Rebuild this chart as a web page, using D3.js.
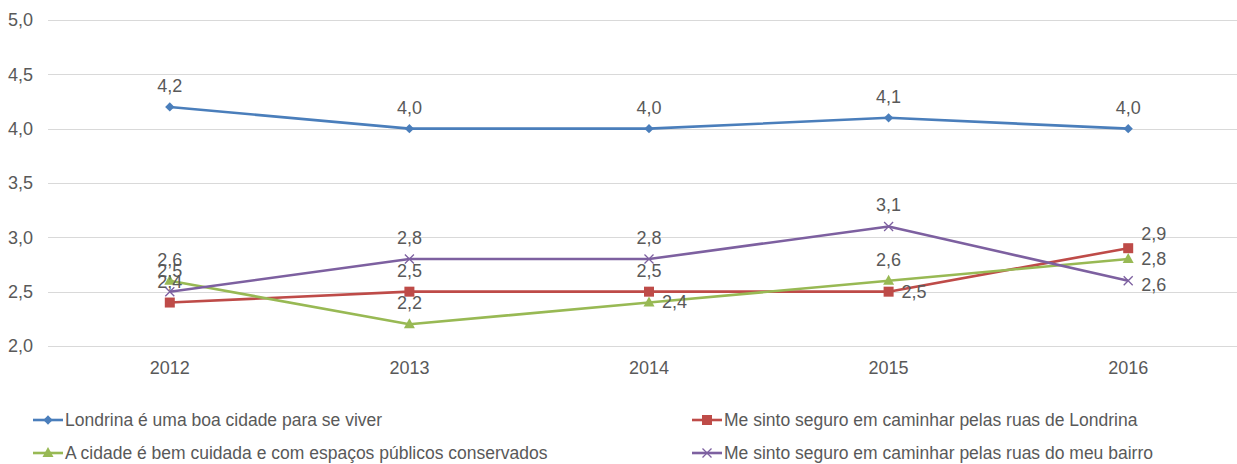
<!DOCTYPE html>
<html><head><meta charset="utf-8">
<script src="https://cdn.jsdelivr.net/npm/d3@7"></script>
<style>body{margin:0;background:#fff}svg{display:block}text{font-family:"Liberation Sans",Arial,sans-serif;fill:#595959}</style>
</head><body>
<svg id="c" width="1237" height="464"></svg>
<script>
const years = ["2012","2013","2014","2015","2016"];
const yTicks = [2.0,2.5,3.0,3.5,4.0,4.5,5.0];
const seriesNames = ["Londrina é uma boa cidade para se viver","Me sinto seguro em caminhar pelas ruas de Londrina","A cidade é bem cuidada e com espaços públicos conservados","Me sinto seguro em caminhar pelas ruas do meu bairro"];
const blueVals = [4.2,4.0,4.0,4.1,4.0];
const redVals = [2.4,2.5,2.5,2.5,2.9];
const greenVals = [2.6,2.2,2.4,2.6,2.8];
const purpleVals = [2.5,2.8,2.8,3.1,2.6];
// label position per point: "t" above, "r" right
const bluePos = ["t","t","t","t","t"];
const redPos = ["t","t","t","r","r"];
const greenPos = ["t","t","r","t","r"];
const purplePos = ["t","t","t","t","r"];
// vertical nudge for right-side labels (px)
const redNudge = [0,0,0,0,-14];
const greenNudge = [0,0,-1,0,0];
const purpleNudge = [0,0,0,0,4];
const blueNudge = [0,0,0,0,0];

const series = [
  {name:seriesNames[0], vals:blueVals, pos:bluePos, nudge:blueNudge, color:"#4a7ebb", marker:"diamond"},
  {name:seriesNames[1], vals:redVals, pos:redPos, nudge:redNudge, color:"#be4b48", marker:"square"},
  {name:seriesNames[2], vals:greenVals, pos:greenPos, nudge:greenNudge, color:"#98b954", marker:"triangle"},
  {name:seriesNames[3], vals:purpleVals, pos:purplePos, nudge:purpleNudge, color:"#7d60a0", marker:"x"}
];

const svg = d3.select("#c");
const x = d3.scaleBand().domain(years).range([50, 1248]);
const y = d3.scaleLinear().domain([2,5]).range([346, 20]);
const fmt = v => d3.format(".1f")(v).replace(".", ",");

// gridlines
svg.append("g").selectAll("line").data(yTicks).join("line")
  .attr("x1", 48).attr("x2", 1248)
  .attr("y1", d => Math.round(y(d))+0.5).attr("y2", d => Math.round(y(d))+0.5)
  .attr("stroke", "#d9d9d9").attr("stroke-width", 1);

// y axis labels
const yAxis = d3.axisLeft(y).tickValues(yTicks).tickFormat(fmt).tickSize(0).tickPadding(0);
const ya = svg.append("g").attr("transform","translate(33,0)").call(yAxis);
ya.select(".domain").remove();
ya.selectAll("text").style("font-size","18px").attr("fill","#595959");

// x axis labels
const xAxis = d3.axisBottom(x).tickSize(0).tickPadding(0);
const xa = svg.append("g").attr("transform","translate(0,361)").call(xAxis);
xa.select(".domain").remove();
xa.selectAll("text").style("font-size","18px").attr("fill","#595959");

const cx = d => x(d) + x.bandwidth()/2;

function drawMarker(g, type, color, px, py) {
  if (type === "diamond") {
    g.append("path").attr("d", d3.symbol(d3.symbolDiamond2 || d3.symbolDiamond, 55)())
      .attr("transform", `translate(${px},${py})`).attr("fill", color);
  } else if (type === "square") {
    g.append("rect").attr("x", px-5).attr("y", py-5).attr("width",10).attr("height",10).attr("fill", color);
  } else if (type === "triangle") {
    g.append("path").attr("d", `M${px},${py-6}L${px+5.5},${py+4}L${px-5.5},${py+4}Z`).attr("fill", color);
  } else if (type === "x") {
    g.append("path").attr("d", `M${px-4.5},${py-4.5}L${px+4.5},${py+4.5}M${px-4.5},${py+4.5}L${px+4.5},${py-4.5}`)
      .attr("stroke", color).attr("stroke-width", 1.3).attr("fill","none");
  }
}

const line = d3.line().x((d,i) => cx(years[i])).y(d => y(d));
series.forEach(s => {
  const g = svg.append("g");
  g.append("path").attr("d", line(s.vals)).attr("fill","none").attr("stroke", s.color).attr("stroke-width", 2.6).attr("stroke-linejoin","round");
  s.vals.forEach((v,i) => drawMarker(g, s.marker, s.color, cx(years[i]), y(v)));
});
// labels
series.forEach(s => {
  s.vals.forEach((v,i) => {
    const px = cx(years[i]), py = y(v);
    const t = svg.append("text").text(fmt(v)).style("font-size","18px");
    if (s.pos[i] === "t") t.attr("x", px).attr("y", py - 15).attr("text-anchor","middle");
    else t.attr("x", px + 13).attr("y", py + 6 + s.nudge[i]).attr("text-anchor","start");
  });
});

// legend
const legPos = [[33,420],[692,420],[33,453],[692,453]];
series.forEach((s,i) => {
  const [lx,ly] = legPos[i];
  const g = svg.append("g");
  g.append("line").attr("x1",lx).attr("x2",lx+30).attr("y1",ly).attr("y2",ly).attr("stroke",s.color).attr("stroke-width",2.6);
  drawMarker(g, s.marker, s.color, lx+15, ly);
  g.append("text").attr("x", lx+32).attr("y", ly+6).text(s.name).style("font-size","17.5px");
});
</script>
</body></html>
